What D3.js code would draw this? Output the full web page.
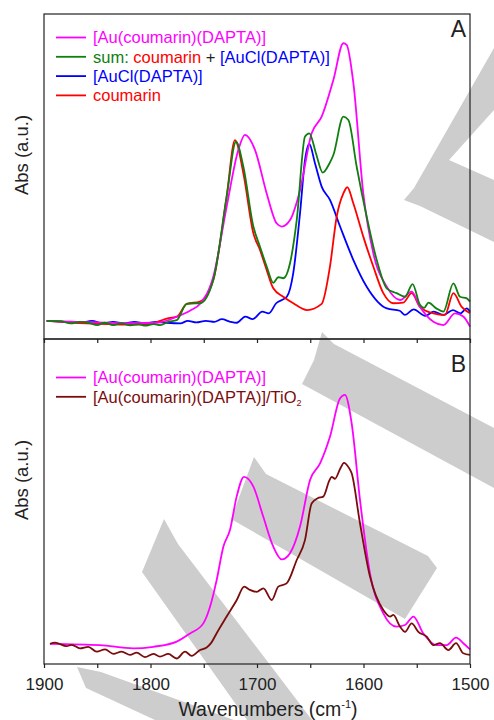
<!DOCTYPE html>
<html>
<head>
<meta charset="utf-8">
<script src="https://cdn.jsdelivr.net/npm/d3@7"></script>
<style>
  body { margin: 0; background: #fff; }
  svg { display: block; font-family: "Liberation Sans", Arial, sans-serif; }
</style>
</head>
<body>
<div id="chart"></div>
<script>
/* Data (wavenumber in cm-1, absorbance in a.u. 0-100) */
const xTicks = [1900, 1800, 1700, 1600, 1500]

// Panel A
const auCoumWnA = [1897.5, 1870, 1850, 1820, 1794, 1775, 1763, 1753, 1741, 1728.5, 1717.5, 1711.3, 1701.9, 1690.9, 1681.6, 1676.8, 1669, 1659.6, 1648.7, 1639.3, 1628.3, 1618.9, 1615.8, 1609.5, 1600.2, 1590.8, 1578.2, 1565.7, 1554.8, 1547, 1534.4, 1525, 1514.1, 1506.3, 1500]
const auCoumAbsA = [5.6, 5.3, 5.1, 4.9, 5.0, 6.9, 8.7, 11.0, 19.2, 40.7, 58.2, 62.8, 58.2, 44.8, 35.6, 34.6, 36.6, 45.8, 63.3, 68.4, 79.7, 91.0, 90.5, 78.7, 44.8, 26.4, 16.1, 12.0, 14.6, 9.9, 5.3, 4.3, 7.9, 6.9, 3.8]

const sumWn = [1897.5, 1885, 1875, 1866, 1858, 1850, 1843, 1835, 1827, 1819, 1811, 1805, 1797, 1791, 1783, 1775.4, 1766, 1758, 1753.5, 1741, 1728.5, 1719.7, 1712.8, 1703.4, 1697.2, 1690.9, 1684.7, 1680, 1675.3, 1669, 1662.7, 1654.9, 1650.9, 1644.6, 1638.3, 1632, 1628.3, 1618.9, 1614.2, 1606.4, 1597, 1587.6, 1578.2, 1568.9, 1561, 1553.9, 1547, 1543, 1539, 1532, 1525, 1515.6, 1509.4, 1503, 1500]
const sumAbs = [5.6, 5.5, 4.8, 5.3, 5.0, 4.3, 5.0, 4.3, 4.8, 4.2, 4.6, 4.1, 4.6, 4.3, 5.3, 5.8, 10.8, 11.0, 11.0, 18.2, 43.8, 60.7, 53.0, 34.6, 28.4, 22.3, 17.3, 19.0, 18.7, 23.3, 36.6, 62.3, 63.3, 57.1, 51.2, 54.0, 56.6, 68.4, 67.4, 53.0, 37.6, 24.3, 15.6, 14.1, 13.0, 16.9, 10.5, 9.6, 11.2, 9.5, 8.4, 17.1, 13.0, 12.5, 11.5]

const auclWn = [1897.5, 1880, 1866, 1855, 1845, 1835, 1825, 1815, 1805, 1795, 1785, 1772, 1765, 1757, 1748, 1740, 1733, 1725, 1719, 1711, 1704, 1695, 1689, 1682, 1672, 1666, 1659.6, 1654.9, 1650.9, 1645.5, 1639.3, 1631.5, 1622, 1609.5, 1597, 1578, 1566, 1561, 1553, 1542, 1534, 1525, 1516, 1509, 1503, 1500]
const auclAbs = [5.6, 5.3, 5.0, 5.6, 4.8, 5.3, 4.8, 5.3, 4.8, 5.3, 5.0, 4.8, 5.6, 5.1, 5.6, 5.3, 6.1, 5.3, 5.0, 6.9, 6.1, 8.4, 7.9, 11.0, 13.0, 20.2, 38.7, 55.1, 60.0, 54.0, 46.9, 42.8, 34.6, 24.3, 16.1, 9.4, 8.7, 7.4, 9.1, 7.1, 8.4, 7.4, 8.9, 7.9, 9.4, 8.4]

const coumWn = [1897.5, 1880, 1860, 1840, 1820, 1800, 1791, 1783, 1775, 1766, 1753.5, 1741, 1728.5, 1720.7, 1712.8, 1703.4, 1697.2, 1690.9, 1684.7, 1675.3, 1665.9, 1653, 1639.3, 1631.5, 1625.2, 1618.9, 1615.2, 1609.5, 1600.2, 1590.8, 1581.4, 1572, 1562.6, 1554.8, 1547, 1534.4, 1523.5, 1515.6, 1507.8, 1500]
const coumAbs = [5.6, 5.2, 4.8, 4.6, 4.4, 4.6, 5.6, 6.4, 6.9, 10.8, 11.5, 18.2, 43.8, 61.2, 51.0, 32.5, 27.4, 21.2, 15.6, 13.0, 11.0, 8.9, 10.8, 22.3, 37.6, 44.8, 46.7, 41.7, 31.5, 22.3, 14.1, 11.0, 11.2, 14.1, 9.9, 7.9, 7.4, 14.1, 9.9, 7.9]

// Panel B
const auCoumWnB = [1894.4, 1847.4, 1816.1, 1797.3, 1775.4, 1762.9, 1750.4, 1744.1, 1737.9, 1731.6, 1725.4, 1719.1, 1712.2, 1703.4, 1694.1, 1684.7, 1676.8, 1669, 1659.6, 1650.2, 1640.8, 1631.5, 1622.1, 1617.4, 1611.1, 1603.3, 1593.9, 1581.4, 1568.9, 1561, 1553.2, 1543.8, 1531.3, 1521.9, 1513.1, 1506.3, 1500]
const auCoumAbsB = [6.2, 5.8, 4.8, 5.3, 6.9, 9.4, 12.5, 17.6, 25.8, 36.1, 41.2, 51.5, 57.6, 54.6, 45.3, 36.1, 32.2, 34.1, 42.3, 56.6, 61.7, 69.9, 81.7, 82.8, 74.0, 50.5, 27.9, 15.6, 11.5, 12.0, 14.6, 9.4, 5.8, 5.8, 8.1, 6.4, 4.5]

const tioWn = [1894.4, 1889.7, 1878.7, 1874, 1866.2, 1858.4, 1850.5, 1842.7, 1834.9, 1827.1, 1819.2, 1813, 1805.2, 1797.3, 1791.1, 1783.3, 1775.4, 1767.6, 1761.3, 1753.5, 1747.3, 1743, 1738, 1728.5, 1719, 1712, 1706.6, 1700.3, 1694, 1686.2, 1680, 1672.2, 1662.7, 1654.9, 1648.7, 1643, 1637.8, 1632, 1629.9, 1626.8, 1622, 1618.3, 1614, 1611.1, 1603.3, 1593.9, 1581.4, 1575.1, 1572, 1565.7, 1561, 1554.8, 1548.5, 1540.7, 1534.4, 1528.2, 1520.3, 1513.1, 1506.3, 1500]
const tioAbs = [6.2, 6.6, 5.5, 5.9, 4.8, 5.3, 3.8, 4.5, 3.1, 3.8, 2.8, 3.5, 2.1, 3.1, 2.3, 3.1, 1.7, 3.8, 2.5, 4.3, 5.1, 6.5, 9.4, 14.6, 19.7, 23.8, 22.8, 22.2, 23.3, 19.7, 23.8, 24.8, 32.0, 38.2, 49.4, 51.0, 51.5, 56.5, 57.6, 57.0, 60.0, 61.9, 60.5, 58.7, 43.3, 26.9, 16.6, 14.6, 15.1, 11.5, 9.9, 12.5, 9.9, 8.4, 5.8, 6.4, 4.3, 6.4, 3.3, 2.8]

/* Background watermark shapes (decoration of the scanned figure) */
const watermark = [
  [[404, 200], [414, 188], [494, 48], [494, 110], [449, 160], [494, 180], [494, 242], [420, 206]],
  [[322, 332], [334, 344], [494, 428], [494, 488], [302, 384], [314, 360]],
  [[254, 457], [266, 474], [428, 556], [437, 568], [405, 619], [231, 519]],
  [[164, 519], [178, 544], [312, 720], [247, 720], [142, 572]],
  [[77, 667], [101, 672], [234, 720], [155, 720], [86, 688]]
]

const width = 494
const height = 720
const left = 44
const right = 470
const panelA = { top: 14, bottom: 339 }
const panelB = { top: 339, bottom: 664 }

const svg = d3.select("#chart").append("svg")
    .attr("width", width)
    .attr("height", height)

svg.append("g")
  .selectAll("path")
  .data(watermark)
  .join("path")
    .attr("d", d => d3.line()(d) + "Z")
    .attr("fill", "#cdcdcd")

const x = d3.scaleLinear().domain([1900, 1500]).range([left, right])

const drawSeries = (y, wn, abs, color) => {
  const pts = wn.map((w, i) => [w, abs[i]])
  svg.append("path")
      .datum(pts)
      .attr("fill", "none")
      .attr("stroke", color)
      .attr("stroke-width", 1.8)
      .attr("stroke-linejoin", "round")
      .attr("d", d3.line()
        .x(d => x(d[0]))
        .y(d => y(d[1]))
        .curve(d3.curveMonotoneX))
}

const drawLegend = (items, x0, y0) => {
  items.forEach((item, i) => {
    const yy = y0 + i * 19.3
    svg.append("line")
        .attr("x1", x0).attr("x2", x0 + 30)
        .attr("y1", yy - 5.8).attr("y2", yy - 5.8)
        .attr("stroke", item.color)
        .attr("stroke-width", 1.8)
    const t = svg.append("text")
        .attr("x", x0 + 37)
        .attr("y", yy)
        .attr("font-size", 16.5)
    item.parts.forEach(p => {
      const s = t.append("tspan").attr("fill", p[1]).text(p[0])
      if (p[2] === "sub") s.attr("font-size", 9).attr("dy", 3)
    })
  })
}

/* Panel A */
const yA = d3.scaleLinear().domain([0, 100]).range([panelA.bottom, panelA.top])
drawSeries(yA, auclWn, auclAbs, "#0000ff")
drawSeries(yA, coumWn, coumAbs, "#ff0000")
drawSeries(yA, auCoumWnA, auCoumAbsA, "#ff00ff")
drawSeries(yA, sumWn, sumAbs, "#0f7f0f")

/* Panel B */
const yB = d3.scaleLinear().domain([0, 100]).range([panelB.bottom, panelB.top])
drawSeries(yB, auCoumWnB, auCoumAbsB, "#ff00ff")
drawSeries(yB, tioWn, tioAbs, "#7a0c0c")

// frames
;[panelA, panelB].forEach(p => {
  svg.append("rect")
      .attr("x", left).attr("y", p.top)
      .attr("width", right - left).attr("height", p.bottom - p.top)
      .attr("fill", "none")
      .attr("stroke", "#222")
      .attr("stroke-width", 1.2)
})

// ticks below panel A (no labels)
const midAxis = svg.append("g")
    .attr("transform", `translate(0,${panelA.bottom})`)
    .call(d3.axisBottom(x).tickValues(d3.range(1900, 1499, -50)).tickSize(4).tickFormat(""))
midAxis.select(".domain").remove()
midAxis.selectAll("line").attr("stroke", "#222").attr("stroke-width", 1.2)

// bottom axis
const botAxis = svg.append("g")
    .attr("transform", `translate(0,${panelB.bottom})`)
    .call(d3.axisBottom(x)
      .tickValues(d3.range(1900, 1499, -50))
      .tickSize(4)
      .tickPadding(10)
      .tickFormat(d => xTicks.includes(d) ? d : ""))
botAxis.select(".domain").remove()
botAxis.selectAll("line").attr("stroke", "#222").attr("stroke-width", 1.2)
botAxis.selectAll("text")
    .attr("font-size", 17)
    .attr("font-family", "Liberation Sans, Arial, sans-serif")
    .attr("fill", "#222")

// x title
const xt = svg.append("text")
    .attr("x", 268).attr("y", 716)
    .attr("text-anchor", "middle")
    .attr("font-size", 19.5)
    .attr("fill", "#222")
xt.append("tspan").text("Wavenumbers (cm")
xt.append("tspan").attr("font-size", 11).attr("dy", -8).text("-1")
xt.append("tspan").attr("dy", 8).text(")")

// y titles
;[155, 480].forEach(cy => {
  svg.append("text")
      .attr("transform", `translate(28,${cy}) rotate(-90)`)
      .attr("text-anchor", "middle")
      .attr("font-size", 18.5)
      .attr("fill", "#222")
      .text("Abs (a.u.)")
})

// panel letters
svg.append("text").attr("x", 466).attr("y", 37).attr("text-anchor", "end")
    .attr("font-size", 23).attr("fill", "#222").text("A")
svg.append("text").attr("x", 466).attr("y", 372).attr("text-anchor", "end")
    .attr("font-size", 23).attr("fill", "#222").text("B")

// legends
drawLegend([
  { color: "#ff00ff", parts: [["[Au(coumarin)(DAPTA)]", "#ff00ff"]] },
  { color: "#0f7f0f", parts: [["sum: ", "#0f7f0f"], ["coumarin", "#ff0000"], [" + ", "#222"], ["[AuCl(DAPTA)]", "#0000ff"]] },
  { color: "#0000ff", parts: [["[AuCl(DAPTA)]", "#0000ff"]] },
  { color: "#ff0000", parts: [["coumarin", "#ff0000"]] }
], 56, 43.3)

drawLegend([
  { color: "#ff00ff", parts: [["[Au(coumarin)(DAPTA)]", "#ff00ff"]] },
  { color: "#7a0c0c", parts: [["[Au(coumarin)(DAPTA)]/TiO", "#7a0c0c"], ["2", "#7a0c0c", "sub"]] }
], 56, 383.3)
</script>
</body>
</html>
